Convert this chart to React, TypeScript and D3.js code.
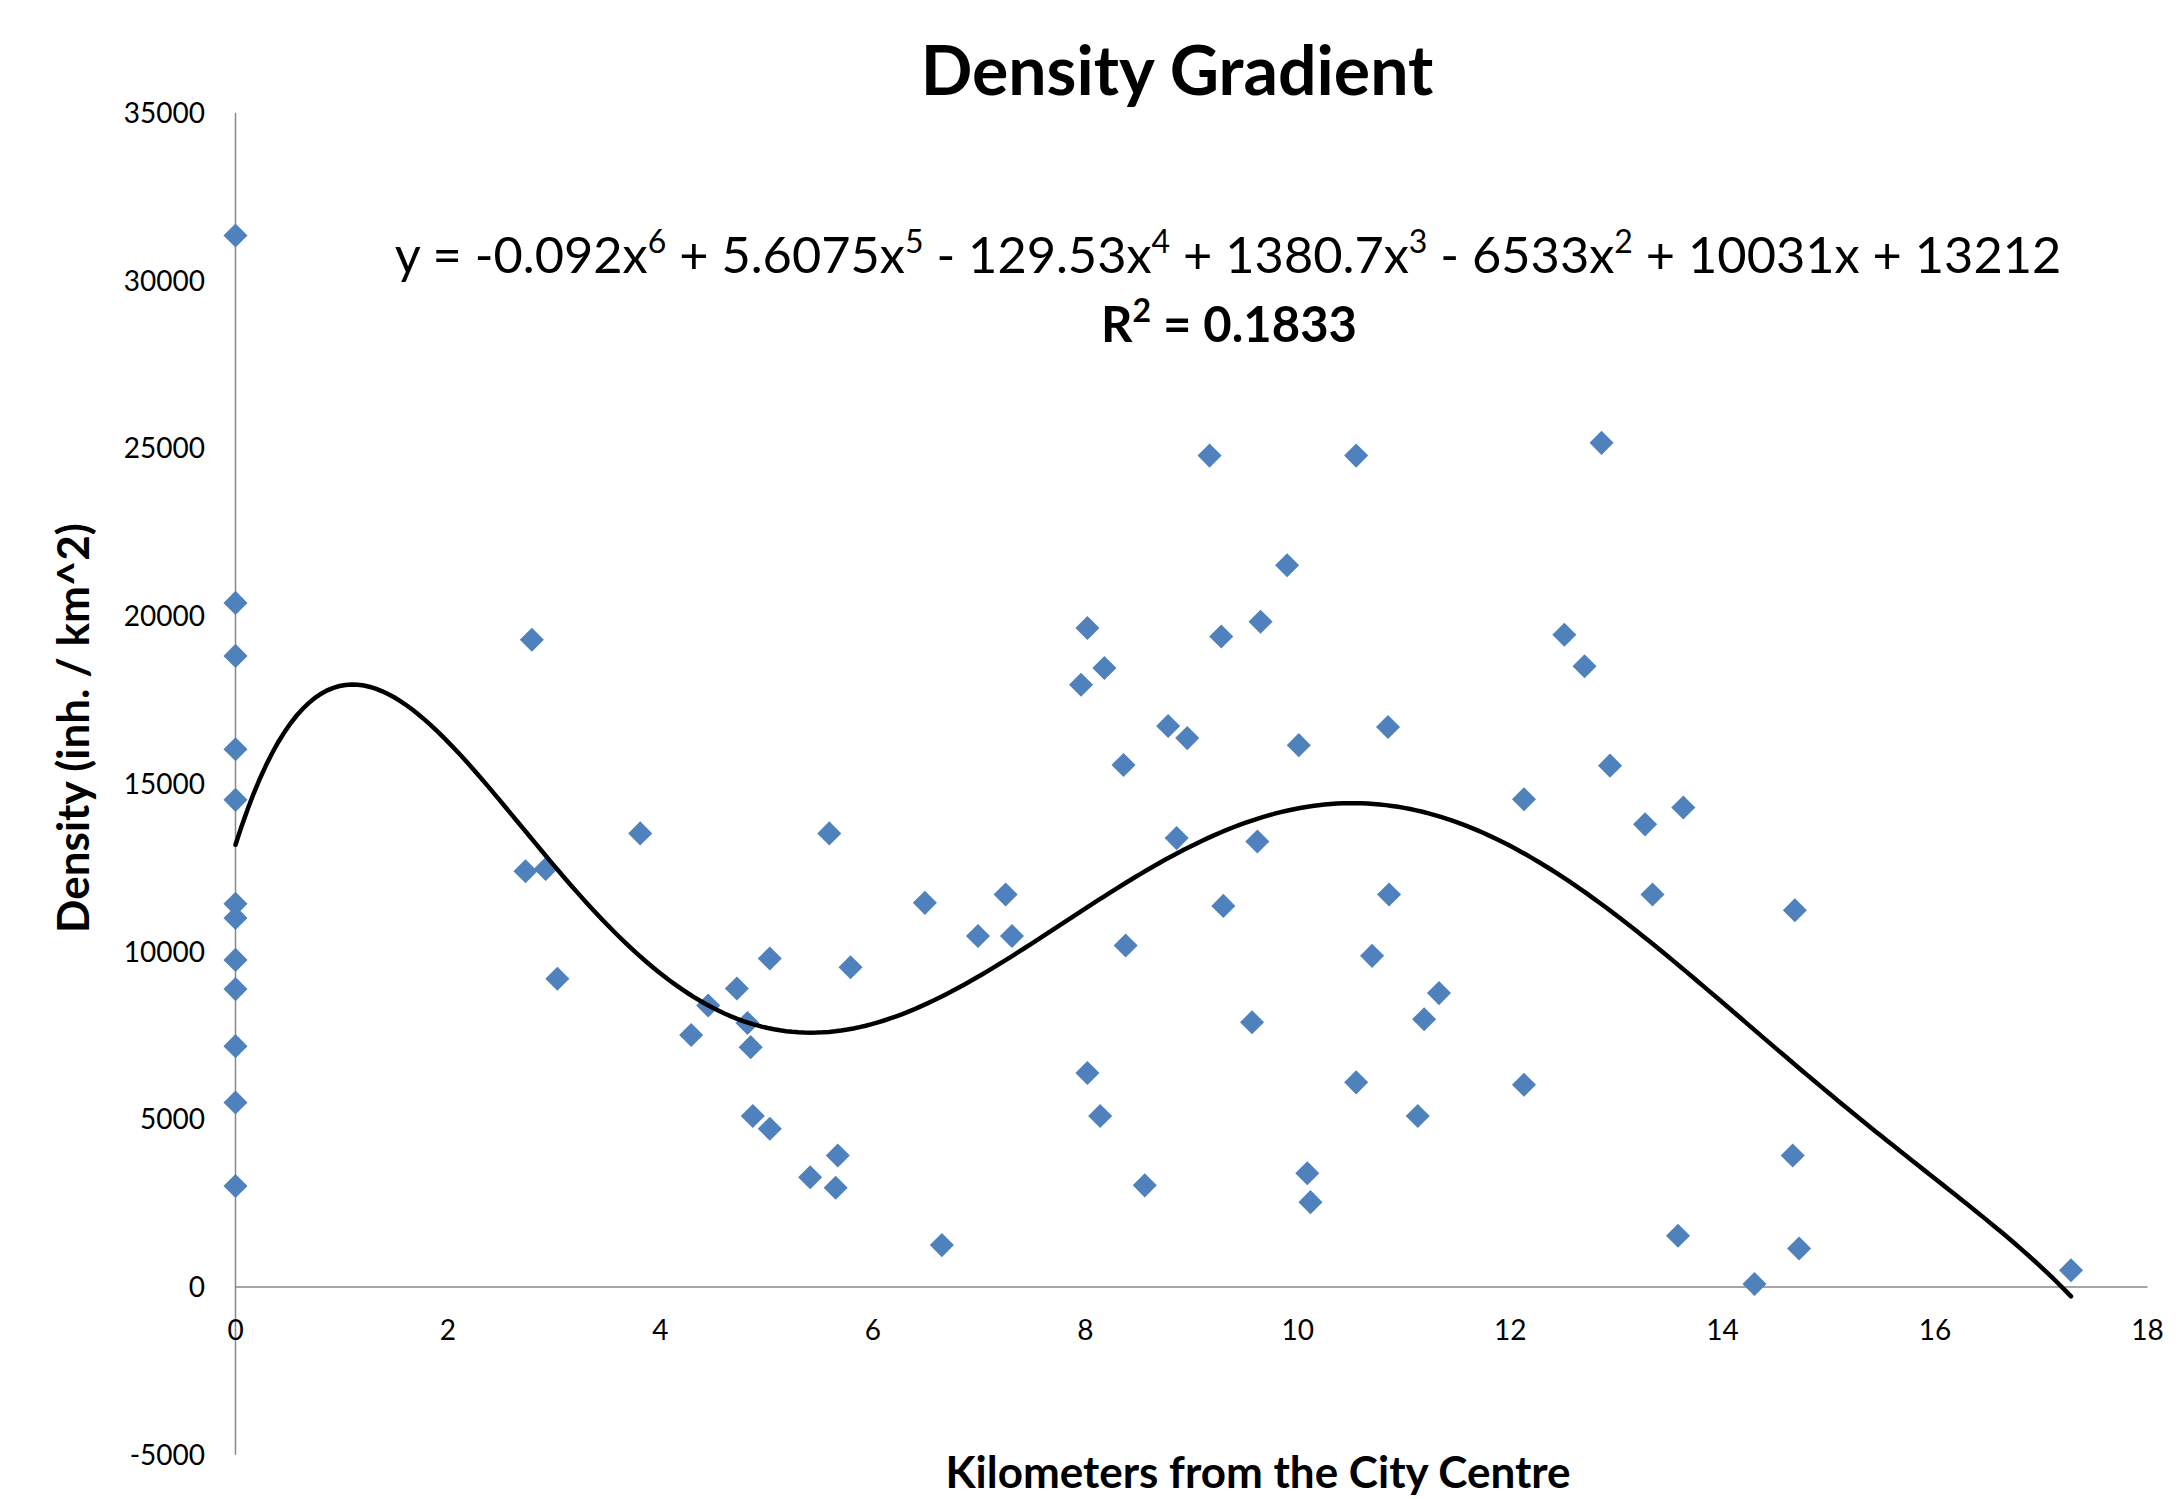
import React from 'react';
import * as d3 from 'd3';

// distances (km) and densities
const distanceKm = [
  0, 0, 0, 0, 0, 0, 0, 0, 0, 0, 0, 0,
  2.79, 3.81, 5.59, 2.73, 2.92, 3.03, 6.49, 7.25, 6.99, 7.31,
  8.38, 5.03, 5.79, 4.72, 4.45, 4.82, 4.29, 4.85, 4.87, 5.03,
  5.67, 5.41, 5.65, 6.65, 8.02, 8.18, 7.96, 8.36, 8.02, 8.14,
  9.17, 10.55, 12.86, 9.9, 9.65, 9.28, 12.51, 12.7, 8.78, 8.96,
  10.85, 10.01, 12.94, 12.13, 13.63, 13.27, 8.86, 9.62, 10.86, 13.34,
  9.3, 10.7, 11.33, 11.19, 9.57, 10.55, 12.13, 11.13, 8.56, 10.09,
  10.12, 13.58, 14.68, 14.66, 14.72, 14.3, 17.28,
];
const density = [
  31340, 20390, 18810, 16030, 14520, 11420, 11000, 9750, 8880, 7180, 5500, 3010,
  19290, 13520, 13520, 12390, 12460, 9190, 11450, 11700, 10460, 10460,
  10180, 9790, 9530, 8900, 8390, 7870, 7510, 7150, 5100, 4720,
  3920, 3270, 2960, 1250, 19640, 18450, 17950, 15560, 6380, 5100,
  24780, 24780, 25160, 21510, 19830, 19390, 19440, 18500, 16720, 16360,
  16690, 16150, 15540, 14540, 14290, 13790, 13380, 13280, 11700, 11700,
  11360, 9870, 8760, 7980, 7890, 6100, 6030, 5100, 3030, 3390,
  2530, 1530, 11230, 3920, 1150, 90, 500,
];

const xTicks = [0, 2, 4, 6, 8, 10, 12, 14, 16, 18];
const yTicks = [-5000, 0, 5000, 10000, 15000, 20000, 25000, 30000, 35000];

const chartTitle = 'Density Gradient';
const xTitle = 'Kilometers from the City Centre';
const yTitle = 'Density (inh. / km^2)';
// trendline label as shown: [text, exponent]
const equationParts: [string, string][] = [
  ['y = -0.092x', '6'],
  [' + 5.6075x', '5'],
  [' - 129.53x', '4'],
  [' + 1380.7x', '3'],
  [' - 6533x', '2'],
  [' + 10031x + 13212', ''],
];
const rSquared = '0.1833';

const FONT = "Lato, 'Open Sans', sans-serif";
const SUP = 20; // superscript raise, px

// least squares polynomial (same as the spreadsheet trendline), x scaled by 1/10
function polyFit(xs: number[], ys: number[], deg: number) {
  const n = deg + 1;
  const A = Array.from({ length: n }, () => new Array(n + 1).fill(0));
  xs.forEach((xv, k) => {
    const t = xv / 10;
    for (let i = 0; i < n; i++) {
      for (let j = 0; j < n; j++) A[i][j] += Math.pow(t, i + j);
      A[i][n] += ys[k] * Math.pow(t, i);
    }
  });
  for (let c = 0; c < n; c++) {
    let p = c;
    for (let r = c + 1; r < n; r++) if (Math.abs(A[r][c]) > Math.abs(A[p][c])) p = r;
    [A[c], A[p]] = [A[p], A[c]];
    for (let r = 0; r < n; r++) {
      if (r === c) continue;
      const f = A[r][c] / A[c][c];
      for (let k = c; k <= n; k++) A[r][k] -= f * A[c][k];
    }
  }
  return A.map((row, i) => row[n] / A[i][i]);
}

const polyEval = (c: number[], xv: number) =>
  c.reduce((s, ci, i) => s + ci * Math.pow(xv / 10, i), 0);

export default function App() {
  const W = 2182;
  const H = 1499;

  const x = d3.scaleLinear().domain([0, 18]).range([235.5, 2147.5]);
  const y = d3.scaleLinear().domain([-5000, 35000]).range([1454.8, 112.7]);

  const coeffs = polyFit(distanceKm, density, 6);
  const xMax = d3.max(distanceKm) as number;
  const samples = d3.range(0, 301).map(i => (xMax * i) / 300);
  const trend = d3.line<number>()
    .x(v => x(v))
    .y(v => y(polyEval(coeffs, v)))(samples);

  const diamond = d3.symbol(d3.symbolSquare, 290)();

  return (
    <div style={{ position: 'absolute', left: 0, top: 0 }}>
      <svg width={W} height={H} style={{ display: 'block', background: '#fff' }}>
        <text x={1177} y={95} textAnchor="middle" fontFamily={FONT} fontWeight="bold" fontSize={68}>
          {chartTitle}
        </text>

        {/* axes */}
        <line x1={x(0)} x2={x(0)} y1={y(35000)} y2={y(-5000)} stroke="#888" strokeWidth={1.5} />
        <line x1={x(0)} x2={x(18)} y1={y(0)} y2={y(0)} stroke="#888" strokeWidth={1.5} />

        {yTicks.map(t => (
          <text key={t} x={205} y={y(t)} dy="0.36em" textAnchor="end" fontFamily={FONT} fontSize={28}>
            {t}
          </text>
        ))}
        {xTicks.map(t => (
          <text key={t} x={x(t)} y={1330} dy="0.36em" textAnchor="middle" fontFamily={FONT} fontSize={28}>
            {t}
          </text>
        ))}

        <g fill="#4F81BD">
          {distanceKm.map((d, i) => (
            <path key={i} d={diamond as string}
              transform={`translate(${x(d)},${y(density[i])}) rotate(45)`} />
          ))}
        </g>

        <path d={trend as string} fill="none" stroke="#000" strokeWidth={4.5} strokeLinecap="round" />

        <text x={1228} y={273} textAnchor="middle" fontFamily={FONT} fontSize={50.5}>
          {equationParts.map(([txt, sup], i) => (
            <React.Fragment key={i}>
              <tspan dy={i === 0 ? 0 : SUP}>{txt}</tspan>
              {sup && <tspan dy={-SUP} fontSize={32}>{sup}</tspan>}
            </React.Fragment>
          ))}
        </text>
        <text x={1229} y={342} textAnchor="middle" fontFamily={FONT} fontWeight="bold" fontSize={49}>
          R<tspan dy={-SUP} fontSize={32}>2</tspan><tspan dy={SUP}> = {rSquared}</tspan>
        </text>

        <text transform="translate(89,728) rotate(-90)" textAnchor="middle" fontFamily={FONT} fontWeight="bold" fontSize={44}>
          {yTitle}
        </text>
        <text x={1258} y={1488} textAnchor="middle" fontFamily={FONT} fontWeight="bold" fontSize={44}>
          {xTitle}
        </text>
      </svg>
    </div>
  );
}
